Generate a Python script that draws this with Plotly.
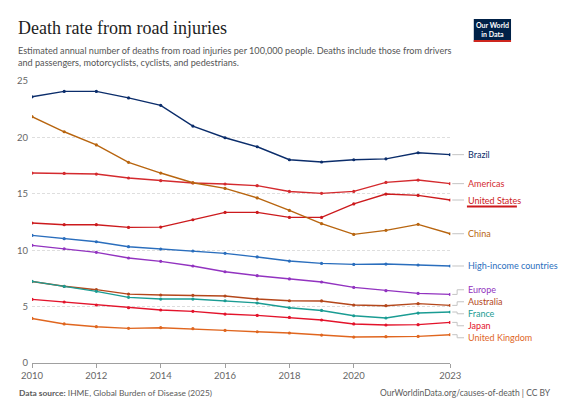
import plotly.graph_objects as go

# data (deaths per 100,000)
years = list(range(2010, 2024))

brazil = [23.6, 24.08, 24.08, 23.5, 22.84, 21.0, 19.97, 19.17, 18.02, 17.82, 18.02, 18.1, 18.64, 18.47]
americas = [16.84, 16.81, 16.75, 16.4, 16.16, 15.96, 15.87, 15.72, 15.21, 15.04, 15.21, 16.01, 16.22, 15.9]
united_states = [12.41, 12.26, 12.26, 12.02, 12.05, 12.7, 13.35, 13.35, 12.91, 12.91, 14.1, 14.98, 14.86, 14.45]
china = [21.84, 20.5, 19.33, 17.79, 16.84, 15.98, 15.48, 14.63, 13.53, 12.35, 11.4, 11.76, 12.29, 11.46]
high_income = [11.31, 11.02, 10.75, 10.31, 10.1, 9.93, 9.72, 9.4, 9.04, 8.83, 8.74, 8.77, 8.69, 8.6]
europe = [10.43, 10.13, 9.81, 9.31, 9.01, 8.6, 8.09, 7.74, 7.45, 7.18, 6.7, 6.41, 6.17, 6.08]
australia = [7.22, 6.8, 6.5, 6.11, 6.03, 6.0, 5.94, 5.67, 5.52, 5.5, 5.14, 5.08, 5.26, 5.11]
france = [7.24, 6.79, 6.35, 5.82, 5.67, 5.67, 5.52, 5.32, 4.9, 4.66, 4.19, 3.99, 4.43, 4.52]
japan = [5.64, 5.41, 5.14, 4.9, 4.7, 4.58, 4.34, 4.22, 4.04, 3.81, 3.46, 3.37, 3.4, 3.6]
united_kingdom = [3.95, 3.46, 3.22, 3.07, 3.13, 3.04, 2.89, 2.77, 2.66, 2.48, 2.3, 2.33, 2.36, 2.51]

names = ["Brazil", "Americas", "United States", "China", "High-income countries",
         "Europe", "Australia", "France", "Japan", "United Kingdom"]
series = [brazil, americas, united_states, china, high_income,
          europe, australia, france, japan, united_kingdom]
colors = ["#0b2d6b", "#d42a2e", "#cc1a1d", "#b8650f", "#2a6ebd",
          "#9233c0", "#b4471b", "#1a9c93", "#e3132b", "#e0661f"]

x_ticks = [2010, 2012, 2014, 2016, 2018, 2020, 2023]
y_ticks = [0, 5, 10, 15, 20, 25]

# page geometry (px)
W, H = 568, 401
ML, MR, MT, MB = 24, 5, 73, 46
PW, PH = W - ML - MR, H - MT - MB
x_right_px = 451  # where 2023 sits
dom = (x_right_px - ML) / PW
x2_max = 2010 + (2023 - 2010) / dom
px_per_year = (x_right_px - ML) / (2023 - 2010)
px_per_unit = PH / 25


def px(xp):
    return (xp - ML) / PW


def py(yp):
    return (H - MB - yp) / PH


def yr(xp):
    return 2023 + (xp - x_right_px) / px_per_year


# spread the end labels so they don't overlap
gap = 12 / px_per_unit
last = [s[-1] for s in series]
order = sorted(range(len(series)), key=lambda i: -last[i])
groups = [[i] for i in order]


def place(g):
    c = sum(last[i] for i in g) / len(g)
    top = c + gap * (len(g) - 1) / 2
    return [top - k * gap for k in range(len(g))]


merged = True
while merged:
    merged = False
    for k in range(len(groups) - 1):
        if place(groups[k])[-1] - place(groups[k + 1])[0] < gap:
            groups[k] = groups[k] + groups[k + 1]
            del groups[k + 1]
            merged = True
            break

label_y = {}
for g in groups:
    for i, v in zip(g, place(g)):
        label_y[i] = v

fig = go.Figure()

for i in range(len(series)):
    fig.add_trace(go.Scatter(
        x=years, y=series[i], mode="lines+markers", name=names[i],
        line=dict(color=colors[i], width=1.4),
        marker=dict(color=colors[i], size=3.2),
        hoverinfo="skip", showlegend=False,
    ))

annotations = []
for i in range(len(series)):
    ly = label_y[i]
    fig.add_trace(go.Scatter(
        x=[yr(453), yr(458), yr(458), yr(465)],
        y=[last[i], last[i], ly, ly],
        mode="lines", line=dict(color="#c4c4c4", width=1),
        xaxis="x2", yaxis="y2", hoverinfo="skip", showlegend=False,
    ))
    annotations.append(dict(
        x=yr(467), y=ly, xref="x2", yref="y2", text=names[i],
        showarrow=False, xanchor="left", yanchor="middle",
        font=dict(family="Lato", size=9, color=colors[i]),
    ))
    if names[i] == "United States":
        uy = ly - 6.5 / px_per_unit
        fig.add_trace(go.Scatter(
            x=[yr(468), yr(519)], y=[uy, uy], mode="lines",
            line=dict(color=colors[i], width=2),
            xaxis="x2", yaxis="y2", hoverinfo="skip", showlegend=False,
        ))

# title, subtitle, footer
annotations += [
    dict(x=px(8), y=py(20), xref="paper", yref="paper", xanchor="left", yanchor="middle",
         text="Death rate from road injuries", showarrow=False,
         font=dict(family="Liberation Serif", size=18, color="#1d1d1d")),
    dict(x=px(8), y=py(35), xref="paper", yref="paper", xanchor="left", yanchor="top",
         text="Estimated annual number of deaths from road injuries per 100,000 people. Deaths include those from drivers"
              "<br>and passengers, motorcyclists, cyclists, and pedestrians.",
         showarrow=False, align="left",
         font=dict(family="Lato", size=9.1, color="#555555")),
    dict(x=px(9), y=py(385), xref="paper", yref="paper", xanchor="left", yanchor="middle",
         text="<b>Data source:</b> IHME, Global Burden of Disease (2025)", showarrow=False,
         font=dict(family="Lato", size=8.4, color="#5b5b5b")),
    dict(x=px(556), y=py(385), xref="paper", yref="paper", xanchor="right", yanchor="middle",
         text="OurWorldinData.org/causes-of-death | CC BY", showarrow=False,
         font=dict(family="Lato", size=8.5, color="#5b5b5b")),
    dict(x=px(494), y=py(21.5), xref="paper", yref="paper", xanchor="center", yanchor="middle",
         text="<b>Our World<br>in Data</b>", showarrow=False, align="center",
         font=dict(family="Lato", size=7, color="white")),
]

shapes = [
    dict(type="rect", xref="paper", yref="paper", x0=px(475), x1=px(513), y0=py(34), y1=py(11),
         fillcolor="#002147", line_width=0, layer="above"),
    dict(type="rect", xref="paper", yref="paper", x0=px(475), x1=px(513), y0=py(34), y1=py(32),
         fillcolor="#ce261e", line_width=0, layer="above"),
]

fig.update_layout(
    width=W, height=H,
    margin=dict(l=ML, r=MR, t=MT, b=MB),
    paper_bgcolor="white", plot_bgcolor="rgba(0,0,0,0)",
    font=dict(family="Lato", color="#666666"),
    annotations=annotations, shapes=shapes,
    xaxis=dict(domain=[0, dom], range=[2010, 2023], tickvals=x_ticks,
               showgrid=False, zeroline=False, showline=True, linecolor="#a0a0a0",
               ticks="outside", ticklen=4, tickcolor="#a0a0a0",
               tickfont=dict(size=9.5, color="#666666")),
    yaxis=dict(range=[0, 25], tickvals=y_ticks, showgrid=True, gridcolor="#dedede",
               griddash="3px,2px", zeroline=False, showline=False,
               tickfont=dict(size=9.5, color="#666666"), ticklabelstandoff=3),
    xaxis2=dict(domain=[0, 1], range=[2010, x2_max], visible=False, anchor="y2"),
    yaxis2=dict(domain=[0, 1], range=[0, 25], visible=False, anchor="x2"),
)

fig.write_html("out.html")
